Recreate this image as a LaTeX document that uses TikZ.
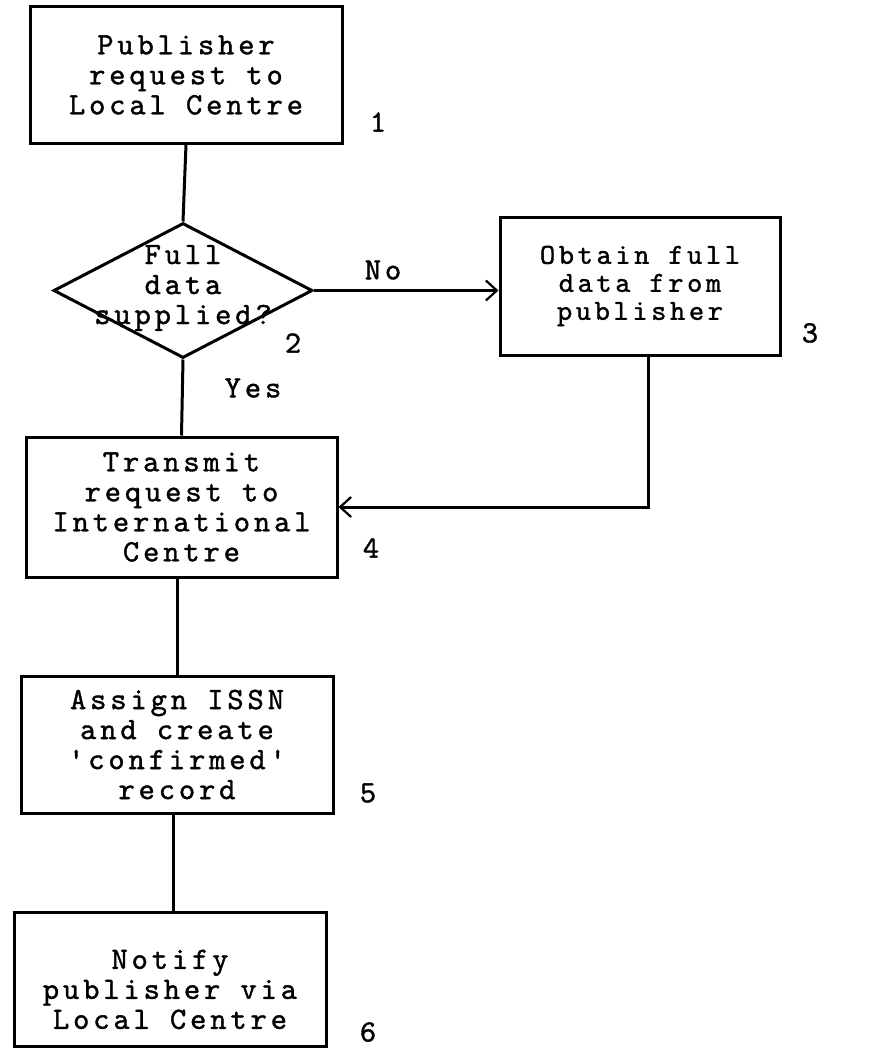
\documentclass[tikz,border=0pt]{standalone}
\usepackage{fontspec}
\newfontfamily\tw{lmmono10-regular.otf}[LetterSpace=12.5,FakeBold=1.2]
\usetikzlibrary{shapes.geometric,arrows.meta}
\begin{document}
\begin{tikzpicture}[x=1pt,y=-1pt,
  every node/.style={font=\tw\fontsize{31}{30}\selectfont},
  box/.style={draw, line width=3pt, inner sep=0pt, align=center},
  decision/.style={draw, shape=diamond, line width=3pt, inner sep=0pt},
  flow/.style={line width=3pt},
  arr/.style={flow, -{Straight Barb[length=11pt,width=20pt,line width=2.2pt]}},
  num/.style={inner sep=0pt}
]
\useasboundingbox (0,0) rectangle (881,1049);
\node[box, minimum width=312pt, minimum height=136pt] (b1) at (186,75) {Publisher\\request to\\Local Centre};
\node[decision, minimum width=259pt, minimum height=135pt] (dia) at (183,290.5) {};
\node[align=center, inner sep=0pt] (dt) at (183,288) {Full\\data\\supplied?};
\node[box, minimum width=280pt, minimum height=138pt, font=\tw\fontsize{29}{28}\selectfont] (b3) at (640,286) {Obtain full\\data from\\publisher};
\node[box, minimum width=311pt, minimum height=140pt] (b4) at (181.5,507) {Transmit\\request to\\International\\Centre};
\node[box, minimum width=312pt, minimum height=137pt] (b5) at (177,744.5) {Assign ISSN\\and create\\'confirmed'\\record};
\node[box, minimum width=312pt, minimum height=134pt] (b6) at (170,979) {\rule{0pt}{40pt}Notify\\publisher via\\Local Centre};

\node[num] (n1) at (378,122) {1};
\node[num] (n2) at (293,343) {2};
\node[num] (n3) at (810,333) {3};
\node[num] (n4) at (371,548) {4};
\node[num] (n5) at (368,793) {5};
\node[num] (n6) at (368,1032) {6};
\node[num] (no) at (383,270) {No};
\node[num] (yes) at (253,388) {Yes};

\draw[flow] (b1.south) -- (dia.north);
\draw[arr] (dia.east) -- (dia.east -| b3.west);
\draw[flow] (dia.south) -- (b4.north);
\draw[arr] ([xshift=8pt]b3.south) |- (b4.east);
\draw[flow] (b5.north |- b4.south) -- (b5.north);
\draw[flow] ([xshift=-4pt]b5.south) -- ([xshift=3pt]b6.north);
\end{tikzpicture}
\end{document}
